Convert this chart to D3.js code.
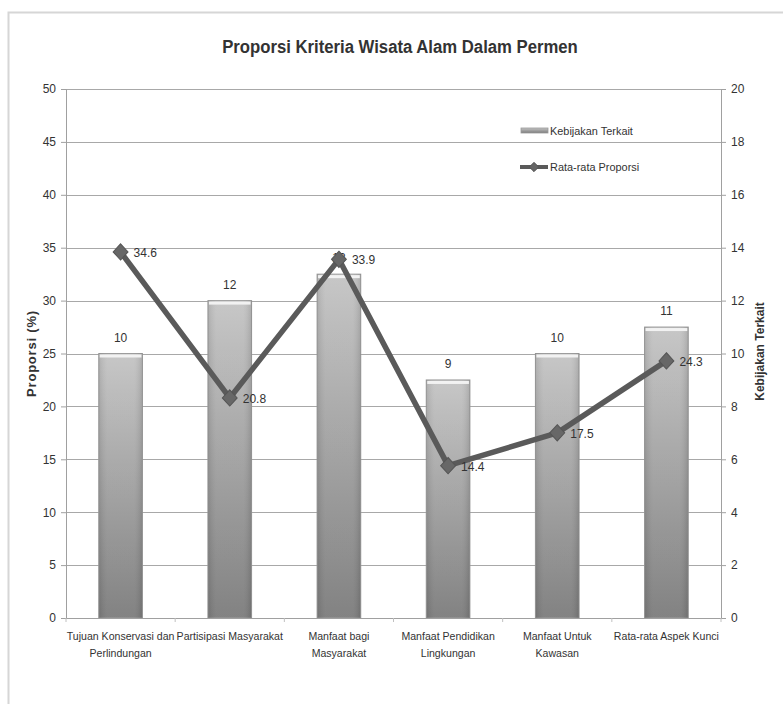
<!DOCTYPE html>
<html>
<head>
<meta charset="utf-8">
<script src="https://cdn.jsdelivr.net/npm/d3@7/dist/d3.min.js"></script>
<style>
  body { margin: 0; background: #fff; }
  svg { display: block; }
  text { font-family: "Liberation Sans", Arial, sans-serif; fill: #333; }
</style>
</head>
<body>
<svg id="chart" width="783" height="704"></svg>
<script>
const categories = [
  ["Tujuan Konservasi dan", "Perlindungan"],
  ["Partisipasi Masyarakat"],
  ["Manfaat bagi", "Masyarakat"],
  ["Manfaat Pendidikan", "Lingkungan"],
  ["Manfaat Untuk", "Kawasan"],
  ["Rata-rata Aspek Kunci"]
];
const kebijakan = [10, 12, 13, 9, 10, 11];
const proporsi = [34.6, 20.8, 33.9, 14.4, 17.5, 24.3];
const leftTicks = [0, 5, 10, 15, 20, 25, 30, 35, 40, 45, 50];
const rightTicks = [0, 2, 4, 6, 8, 10, 12, 14, 16, 18, 20];

const svg = d3.select("#chart");
const m = { left: 66, right: 721, top: 89, bottom: 618 };

// outer frame
svg.append("rect").attr("x", 8.5).attr("y", 12.5).attr("width", 790).attr("height", 700)
  .attr("fill", "#fff").attr("stroke", "#d6d6d6").attr("stroke-width", 2);

const defs = svg.append("defs");
const grad = defs.append("linearGradient").attr("id", "barGrad").attr("x1", 0).attr("y1", 0).attr("x2", 0).attr("y2", 1);
grad.append("stop").attr("offset", "0%").attr("stop-color", "#c4c4c4");
grad.append("stop").attr("offset", "100%").attr("stop-color", "#7c7c7c");
const gradH = defs.append("linearGradient").attr("id", "barGradH").attr("x1", 0).attr("y1", 0).attr("x2", 1).attr("y2", 0);
gradH.append("stop").attr("offset", "0%").attr("stop-color", "#000").attr("stop-opacity", 0.10);
gradH.append("stop").attr("offset", "20%").attr("stop-color", "#fff").attr("stop-opacity", 0.05);
gradH.append("stop").attr("offset", "80%").attr("stop-color", "#fff").attr("stop-opacity", 0.05);
gradH.append("stop").attr("offset", "100%").attr("stop-color", "#000").attr("stop-opacity", 0.12);

const x = d3.scaleBand().domain(d3.range(categories.length)).range([m.left, m.right]).paddingInner(0.6).paddingOuter(0.3);
const xBand = d3.scaleBand().domain(d3.range(categories.length)).range([m.left, m.right]);
const yL = d3.scaleLinear().domain([0, 50]).range([m.bottom, m.top]);
const yR = d3.scaleLinear().domain([0, 20]).range([m.bottom, m.top]);

// gridlines
svg.append("g").selectAll("line").data(leftTicks.filter(d => d > 0)).join("line")
  .attr("x1", m.left).attr("x2", m.right)
  .attr("y1", d => Math.round(yL(d)) + 0.5).attr("y2", d => Math.round(yL(d)) + 0.5)
  .attr("stroke", "#a8a8a8").attr("stroke-width", 1.2);

// left axis
const axL = svg.append("g").attr("transform", `translate(${m.left},0)`)
  .call(d3.axisLeft(yL).tickValues(leftTicks).tickSize(5).tickPadding(5));
axL.select(".domain").attr("stroke", "#a0a0a0");
axL.selectAll(".tick line").attr("stroke", "#a0a0a0");
axL.selectAll(".tick text").attr("font-size", 12).attr("fill", "#444");

// right axis
const axR = svg.append("g").attr("transform", `translate(${m.right},0)`)
  .call(d3.axisRight(yR).tickValues(rightTicks).tickSize(5).tickPadding(5));
axR.select(".domain").attr("stroke", "#a0a0a0");
axR.selectAll(".tick line").attr("stroke", "#a0a0a0");
axR.selectAll(".tick text").attr("font-size", 12).attr("fill", "#444");

// bars
const bars = svg.append("g");
bars.selectAll("rect.bar").data(kebijakan).join("rect").attr("class", "bar")
  .attr("x", (d, i) => x(i)).attr("width", x.bandwidth())
  .attr("y", d => yR(d)).attr("height", d => yR(0) - yR(d))
  .attr("fill", "url(#barGrad)").attr("stroke", "#9a9a9a").attr("stroke-width", 1);
bars.selectAll("rect.shade").data(kebijakan).join("rect").attr("class", "shade")
  .attr("x", (d, i) => x(i)).attr("width", x.bandwidth())
  .attr("y", d => yR(d)).attr("height", d => yR(0) - yR(d))
  .attr("fill", "url(#barGradH)");
bars.selectAll("rect.hl").data(kebijakan).join("rect").attr("class", "hl")
  .attr("x", (d, i) => x(i) + 1).attr("width", x.bandwidth() - 2)
  .attr("y", d => yR(d) + 1).attr("height", 3)
  .attr("fill", "#f2f2f2");
bars.selectAll("text").data(kebijakan).join("text")
  .attr("x", (d, i) => x(i) + x.bandwidth() / 2).attr("y", d => yR(d) - 12)
  .attr("text-anchor", "middle").attr("font-size", 12).attr("fill", "#444")
  .text(d => d);

// bottom axis line + ticks
svg.append("line").attr("x1", m.left).attr("x2", m.right).attr("y1", m.bottom + 0.5).attr("y2", m.bottom + 0.5)
  .attr("stroke", "#a0a0a0");
svg.append("g").selectAll("line").data(d3.range(categories.length + 1)).join("line")
  .attr("x1", i => m.left + i * xBand.step()).attr("x2", i => m.left + i * xBand.step())
  .attr("y1", m.bottom).attr("y2", m.bottom + 4).attr("stroke", "#c0c0c0");

// category labels (condensed)
const cl = svg.append("g").selectAll("g").data(categories).join("g")
  .attr("transform", (d, i) => `translate(${xBand(i) + xBand.bandwidth() / 2},640) scale(0.92,1)`);
cl.selectAll("text").data(d => d).join("text")
  .attr("x", 0).attr("y", (d, j) => j * 17)
  .attr("text-anchor", "middle").attr("font-size", 11.5).attr("fill", "#333")
  .text(d => d);

// line series
const line = d3.line().x((d, i) => xBand(i) + xBand.bandwidth() / 2).y(d => yL(d));
svg.append("path").datum(proporsi).attr("d", line)
  .attr("fill", "none").attr("stroke", "#5a5a5a").attr("stroke-width", 5.5).attr("stroke-linejoin", "round");
const diamond = d3.symbol().type(d3.symbolDiamond2).size(140);
svg.append("g").selectAll("path").data(proporsi).join("path")
  .attr("d", diamond)
  .attr("transform", (d, i) => `translate(${xBand(i) + xBand.bandwidth() / 2},${yL(d)}) scale(1,1.1)`)
  .attr("fill", "#676767").attr("stroke", "#555").attr("stroke-width", 1);
svg.append("g").selectAll("text").data(proporsi).join("text")
  .attr("x", (d, i) => xBand(i) + xBand.bandwidth() / 2 + 13).attr("y", d => yL(d) + 5)
  .attr("font-size", 12).attr("fill", "#444")
  .text(d => d);

// title (condensed)
svg.append("text").attr("transform", "translate(400,53) scale(0.88,1)").attr("text-anchor", "middle")
  .attr("font-size", 19).attr("font-weight", "bold").attr("fill", "#2a2a2a")
  .text("Proporsi Kriteria Wisata Alam Dalam Permen");

// axis titles
svg.append("text").attr("transform", `translate(36,${(m.top + m.bottom) / 2}) rotate(-90)`)
  .attr("text-anchor", "middle").attr("font-size", 13).attr("font-weight", "bold").attr("fill", "#333")
  .attr("letter-spacing", 0.8)
  .text("Proporsi (%)");
svg.append("text").attr("transform", `translate(764,${(m.top + m.bottom) / 2 - 2}) rotate(-90)`)
  .attr("text-anchor", "middle").attr("font-size", 12).attr("font-weight", "bold").attr("fill", "#333")
  .text("Kebijakan Terkait");

// legend
const lg = svg.append("g");
lg.append("rect").attr("x", 521).attr("y", 128).attr("width", 27).attr("height", 5)
  .attr("fill", "url(#barGrad)").attr("stroke", "#9a9a9a").attr("stroke-width", 0.8);
lg.append("text").attr("transform", "translate(550,135) scale(0.95,1)").attr("font-size", 11.5).attr("fill", "#333").text("Kebijakan Terkait");
lg.append("line").attr("x1", 520).attr("x2", 548).attr("y1", 167).attr("y2", 167)
  .attr("stroke", "#5a5a5a").attr("stroke-width", 4);
lg.append("path").attr("d", d3.symbol().type(d3.symbolDiamond2).size(55))
  .attr("transform", "translate(534,167)").attr("fill", "#666").attr("stroke", "#555");
lg.append("text").attr("transform", "translate(550,171) scale(0.95,1)").attr("font-size", 11.5).attr("fill", "#333").text("Rata-rata Proporsi");
</script>
</body>
</html>
